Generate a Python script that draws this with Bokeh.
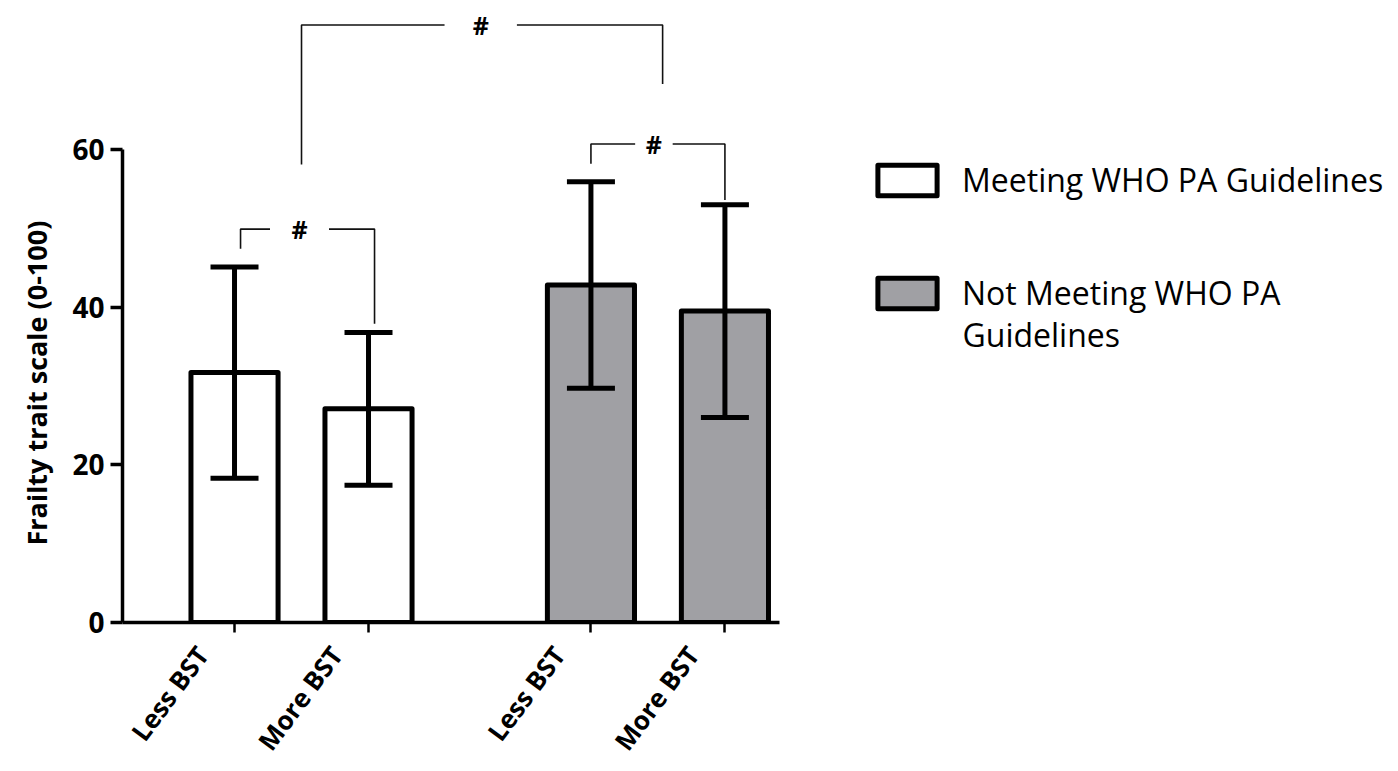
import math
from bokeh.plotting import figure
from bokeh.models import (Range1d, Legend, LegendItem, Whisker, TeeHead,
                          ColumnDataSource, FixedTicker, Label, Title)
from bokeh.core.properties import value
from bokeh.embed import file_html
from bokeh.resources import INLINE

# ---------------- data ----------------
groups = ["Meeting WHO PA Guidelines", "Not Meeting WHO PA", "Guidelines"]
categories = ["Less BST", "More BST"]
means_meeting = [31.7, 27.1]
sd_meeting = [13.4, 9.7]
means_not = [42.8, 39.5]
sd_not = [13.1, 13.5]
y_ticks = [0, 20, 40, 60]
y_label = "Frailty trait scale (0-100)"
sig_label = "#"

# ---------------- layout ----------------
group_start = [1.0, 3.66]
within = [0.0, 1.0]
xpos = [g + o for g in group_start for o in within]
bar_w = 0.65
label_shift = -0.24

FONT = "Open Sans"

p = figure(width=1398, height=771, output_backend="svg", toolbar_location=None,
           x_range=Range1d(0.164, 9.687), y_range=Range1d(0, 78.9),
           min_border_left=122, min_border_right=0, min_border_top=0,
           min_border_bottom=149)
p.outline_line_color = None
p.xgrid.visible = False
p.ygrid.visible = False
p.background_fill_color = "white"
p.border_fill_color = "white"


def make_src(xs, means, sds):
    return ColumnDataSource(dict(
        x=xs, top=means,
        upper=[m + s for m, s in zip(means, sds)],
        lower=[m - s for m, s in zip(means, sds)]))


src_m = make_src(xpos[:2], means_meeting, sd_meeting)
src_n = make_src(xpos[2:], means_not, sd_not)

r_m = p.vbar(x="x", top="top", bottom=0, width=bar_w, source=src_m,
             fill_color="white", line_color="black", line_width=5,
             line_join="round")
r_n = p.vbar(x="x", top="top", bottom=0, width=bar_w, source=src_n,
             fill_color="#a0a0a4", line_color="black", line_width=5,
             line_join="round")

for src in (src_m, src_n):
    w = Whisker(base="x", upper="upper", lower="lower", source=src,
                line_width=5, line_color="black", level="overlay",
                upper_head=TeeHead(size=48, line_width=5, line_color="black"),
                lower_head=TeeHead(size=48, line_width=5, line_color="black"))
    p.add_layout(w)

# ---------------- significance brackets ----------------
upper_all = [m + s for m, s in zip(means_meeting + means_not, sd_meeting + sd_not)]


def bracket(xl, xr, y, yl, yr, gap, shift=0.0):
    mid = (xl + xr) / 2 + shift
    xs = [[xl, xl, mid - gap], [mid + gap, xr, xr]]
    ys = [[yl, y, y], [y, y, yr]]
    return xs, ys, mid


y_g1 = max(upper_all[0:2]) + 4.8
y_g2 = max(upper_all[2:4]) + 4.8
y_top = y_g2 + 15.1
mid_g1 = (xpos[0] + xpos[1]) / 2
mid_g2 = (xpos[2] + xpos[3]) / 2

brackets = [
    bracket(xpos[0] + 0.045, xpos[1] + 0.045, y_g1, y_g1 - 2.5,
            upper_all[1] + 1.1, 0.22, -0.06),
    bracket(xpos[2], xpos[3], y_g2, y_g2 - 2.5, upper_all[3] + 0.6, 0.14, -0.03),
    bracket(mid_g1, mid_g2 + 0.035, y_top, y_g1 + 8.2, y_g2 + 7.6, 0.27, -0.01),
]
tx, ty = [], []
for (xs, ys, mid), yy in zip(brackets, [y_g1, y_g2, y_top]):
    p.multi_line(xs, ys, line_color="#111111", line_width=1.6)
    tx.append(mid)
    ty.append(yy)
p.text(x=tx, y=ty, text=[sig_label] * 3, text_align="center",
       text_baseline="middle", text_font=value(FONT), text_font_style="bold",
       text_font_size="25px", text_color="black")

# ---------------- axes ----------------
yax = p.yaxis[0]
yax.ticker = FixedTicker(ticks=y_ticks)
yax.bounds = (0, 60)
yax.axis_line_width = 3.5
yax.major_tick_line_width = 3.5
yax.major_tick_out = 12
yax.major_tick_in = 0
yax.minor_tick_line_color = None
yax.major_label_text_font = FONT
yax.major_label_text_font_style = "bold"
yax.major_label_text_font_size = "28px"
yax.major_label_text_color = "black"
yax.major_label_standoff = 6

p.add_layout(Title(text=y_label, align="left", offset=77, standoff=29,
                   text_font=FONT, text_font_style="bold",
                   text_font_size="27px", text_color="black"), "left")

# x axis: visible (minor) ticks at the bar centres, labels anchored a bit
# to the left of them, as in the original figure
xax = p.xaxis[0]
xax.ticker = FixedTicker(ticks=[x + label_shift for x in xpos],
                         minor_ticks=xpos)
xax.major_label_overrides = {x + label_shift: c for x, c in
                             zip(xpos, categories * 2)}
xax.bounds = (0.164, 5.07)
xax.axis_line_width = 3.5
xax.major_tick_line_color = None
xax.major_tick_out = 10
xax.major_tick_in = 0
xax.minor_tick_line_color = "black"
xax.minor_tick_line_width = 2.5
xax.minor_tick_out = 10
xax.minor_tick_in = 0
xax.major_label_orientation = 0.93
xax.major_label_text_font = FONT
xax.major_label_text_font_style = "bold"
xax.major_label_text_font_size = "26px"
xax.major_label_text_color = "black"
xax.major_label_standoff = 17

# ---------------- legend ----------------
legend = Legend(items=[LegendItem(label=groups[0], renderers=[r_m]),
                       LegendItem(label=groups[1], renderers=[r_n])],
                location=(748, 308), glyph_width=74, glyph_height=38,
                label_text_font=FONT, label_text_font_size="32px",
                label_text_color="black",
                label_standoff=18, spacing=70, padding=0, margin=0,
                border_line_color=None, background_fill_alpha=0)
p.add_layout(legend)
p.add_layout(Label(x=840, y=288, x_units="screen", y_units="screen",
                   text=groups[2], text_align="left", text_baseline="middle",
                   text_font=FONT, text_font_size="32px", text_color="black"))

open("out.html", "w").write(file_html(p, INLINE))
